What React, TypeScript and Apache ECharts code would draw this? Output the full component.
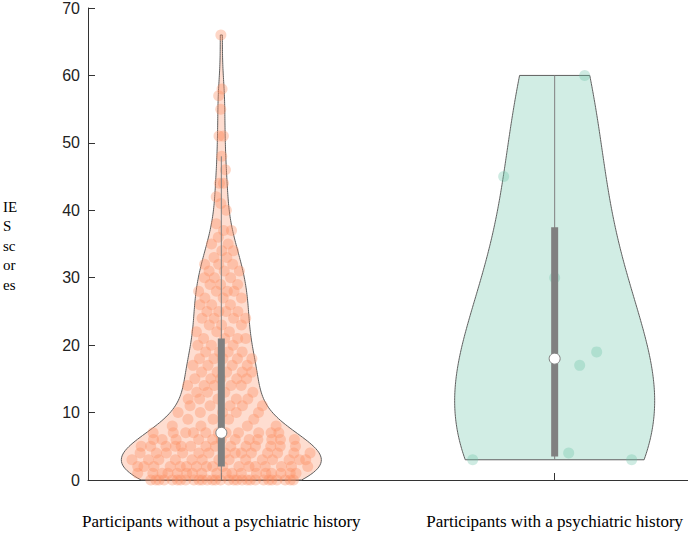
import React, { useEffect, useRef } from "react";
import * as echarts from "echarts";

// ---- data ----
const categories = ["Participants without a psychiatric history", "Participants with a psychiatric history"];
const categoryPositions = [1, 2];

// IES scores, participants without a psychiatric history
const withoutHistoryCounts: [number, number][] = [
  [0, 29], [1, 18], [2, 17], [3, 14], [4, 14], [5, 14], [6, 12], [7, 11],
  [8, 4], [9, 4], [10, 5], [11, 5], [12, 5], [13, 4], [14, 5], [15, 5], [16, 5],
  [17, 4], [18, 5], [19, 4], [20, 3],
  [21, 4], [22, 3], [23, 3], [24, 4], [25, 4], [26, 3], [27, 3], [28, 4], [29, 3], [30, 3],
  [31, 3], [32, 3], [33, 2], [34, 2], [35, 2], [36, 1], [37, 2], [38, 1], [40, 1],
  [41, 1], [42, 1], [44, 2], [46, 1], [48, 1], [51, 2], [55, 1], [57, 1], [58, 1], [66, 1],
];
// IES scores, participants with a psychiatric history
const withHistoryScores = [60, 45, 30, 19, 17, 4, 3, 3];
// horizontal jitter of those points (data units)
const withHistoryJitter = [0.09, -0.153, 0, 0.126, 0.075, 0.042, -0.246, 0.231];
// kernel bandwidth adjustment per group (relative to Scott's rule)
const bandwidthAdjust = [0.76, 1];

const yTicks = [0, 10, 20, 30, 40, 50, 60, 70];

const withoutHistoryScores: number[] = [];
withoutHistoryCounts.forEach(([v, c]) => {
  for (let i = 0; i < c; i++) withoutHistoryScores.push(v);
});

// ---- helpers ----
function kde(values: number[], adjust: number, steps = 240) {
  const n = values.length;
  const mean = values.reduce((a, b) => a + b, 0) / n;
  const sd = Math.sqrt(values.reduce((a, b) => a + (b - mean) ** 2, 0) / (n - 1));
  const bw = sd * Math.pow(n, -1 / 5) * adjust;
  const lo = Math.min(...values);
  const hi = Math.max(...values);
  const pts: [number, number][] = [];
  for (let i = 0; i <= steps; i++) {
    const y = lo + ((hi - lo) * i) / steps;
    let d = 0;
    for (const v of values) d += Math.exp(-0.5 * ((y - v) / bw) ** 2);
    pts.push([y, d]);
  }
  const maxD = Math.max(...pts.map((p) => p[1]));
  return { pts: pts.map(([y, d]) => [y, d / maxD] as [number, number]), bw, lo, hi, values, maxD };
}

function densityAt(k: ReturnType<typeof kde>, y: number) {
  let d = 0;
  for (const v of k.values) d += Math.exp(-0.5 * ((y - v) / k.bw) ** 2);
  return d / k.maxD;
}

function median(sorted: number[]) {
  const n = sorted.length;
  return n % 2 ? sorted[(n - 1) / 2] : (sorted[n / 2 - 1] + sorted[n / 2]) / 2;
}

function boxStats(values: number[]) {
  const s = [...values].sort((a, b) => a - b);
  const n = s.length;
  const med = median(s);
  const half = Math.ceil(n / 2);
  const lower = s.slice(0, half);
  const upper = s.slice(n - half);
  const q1 = median(lower);
  const q3 = median(upper);
  const iqr = q3 - q1;
  const wLo = Math.min(...s.filter((v) => v >= q1 - 1.5 * iqr));
  const wHi = Math.max(...s.filter((v) => v <= q3 + 1.5 * iqr));
  return { q1, med, q3, wLo, wHi };
}

const MAX_HALF = 0.3;

export default function App() {
  const ref = useRef<HTMLDivElement>(null);
  useEffect(() => {
    document.body.style.margin = "0";
    if (!ref.current) return;
    const chart = echarts.init(ref.current, undefined, { renderer: "svg" });

    const groups = [withoutHistoryScores, withHistoryScores];
    const kdes = groups.map((g, i) => kde(g, bandwidthAdjust[i]));
    const stats = groups.map((g) => boxStats(g));
    const fills = ["rgba(252,141,98,0.3)", "rgba(102,194,165,0.3)"];
    const pointColors = ["rgba(252,141,98,0.45)", "rgba(102,194,165,0.4)"];

    const sortedWithout = [...withoutHistoryScores].sort((a, b) => a - b);
    const scatter0 = sortedWithout.map((v, i) => {
      const u = ((i * 0.6180339887 + 0.37) % 1) * 2 - 1;
      const hw = MAX_HALF * densityAt(kdes[0], v);
      return [categoryPositions[0] + u * hw * 0.92, v];
    });
    const scatter1 = withHistoryScores.map((v, i) => [categoryPositions[1] + withHistoryJitter[i], v]);

    const violinSeries = kdes.map((k, gi) => ({
      type: "custom",
      z: 1,
      silent: true,
      data: [[categoryPositions[gi], 0]],
      renderItem: (_p: any, api: any) => {
        const c = categoryPositions[gi];
        const right = k.pts.map(([y, d]) => api.coord([c + d * MAX_HALF, y]));
        const left = k.pts
          .slice()
          .reverse()
          .map(([y, d]) => api.coord([c - d * MAX_HALF, y]));
        return {
          type: "polygon",
          shape: { points: right.concat(left) },
          style: { fill: fills[gi], stroke: "#5f5f5f", lineWidth: 1 },
        };
      },
    }));

    const boxSeries = stats.map((s, gi) => ({
      type: "custom",
      z: 5,
      silent: true,
      data: [[categoryPositions[gi], s.med]],
      renderItem: (_p: any, api: any) => {
        const c = categoryPositions[gi];
        const wl = api.coord([c, s.wLo]);
        const wh = api.coord([c, s.wHi]);
        const b1 = api.coord([c, s.q1]);
        const b3 = api.coord([c, s.q3]);
        const m = api.coord([c, s.med]);
        return {
          type: "group",
          children: [
            { type: "line", shape: { x1: wl[0], y1: wl[1], x2: wh[0], y2: wh[1] }, style: { stroke: "#808080", lineWidth: 1 } },
            { type: "rect", shape: { x: b1[0] - 3.5, y: b3[1], width: 7, height: b1[1] - b3[1] }, style: { fill: "#808080" } },
            { type: "circle", shape: { cx: m[0], cy: m[1], r: 5.5 }, style: { fill: "#ffffff", stroke: "#808080", lineWidth: 1 } },
          ],
        };
      },
    }));

    chart.setOption({
      animation: false,
      grid: { left: 88, right: 0, top: 8, bottom: 53, containLabel: false },
      xAxis: {
        type: "value",
        min: 0.6,
        max: 2.4,
        splitLine: { show: false },
        axisLine: { show: true, lineStyle: { color: "#333333", width: 1 } },
        axisTick: { show: true, inside: true, length: 7, customValues: categoryPositions, lineStyle: { color: "#333333" } },
        axisLabel: {
          show: true,
          customValues: categoryPositions,
          formatter: (v: number) => categories[categoryPositions.indexOf(Math.round(v))] ?? "",
          margin: 33,
          fontFamily: "Liberation Serif, Times New Roman, serif",
          fontSize: 17,
          color: "#000000",
        },
      },
      yAxis: {
        type: "value",
        min: 0,
        max: 70,
        interval: 10,
        splitLine: { show: false },
        axisLine: { show: true, lineStyle: { color: "#333333", width: 1 } },
        axisTick: { show: true, inside: true, length: 7, lineStyle: { color: "#333333" } },
        axisLabel: {
          margin: 8,
          fontFamily: "Liberation Sans, Arial, sans-serif",
          fontSize: 16,
          color: "#222222",
          formatter: (v: number) => (yTicks.includes(v) ? String(v) : ""),
        },
      },
      graphic: [
        {
          type: "text",
          left: 3,
          top: 197,
          style: {
            text: "IE\nS\nsc\nor\nes",
            font: "15px 'Liberation Serif', 'Times New Roman', serif",
            lineHeight: 19.5,
            fill: "#000000",
          },
        },
      ],
      series: [
        ...violinSeries,
        {
          type: "scatter",
          z: 3,
          symbolSize: 11,
          itemStyle: { color: pointColors[0] },
          data: scatter0,
          silent: true,
        },
        {
          type: "scatter",
          z: 3,
          symbolSize: 11,
          itemStyle: { color: pointColors[1] },
          data: scatter1,
          silent: true,
        },
        ...boxSeries,
      ],
    });
    return () => chart.dispose();
  }, []);
  return <div ref={ref} style={{ width: 688, height: 533 }} />;
}
